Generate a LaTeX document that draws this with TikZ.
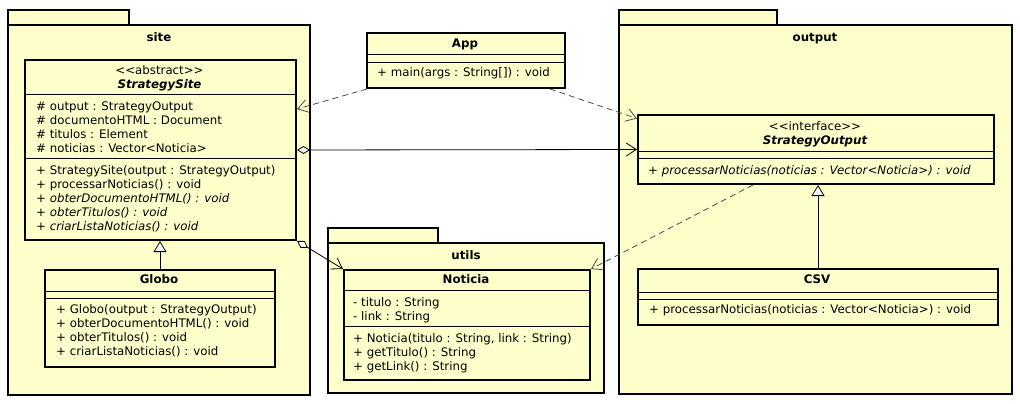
\documentclass[tikz,border=0pt]{standalone}
\usepackage{fontspec}
\setmainfont{DejaVu Sans}
\usetikzlibrary{arrows.meta}
\definecolor{umlyellow}{HTML}{FFFFCC}
\begin{document}
\begin{tikzpicture}[x=1pt, y=-1pt, font=\fontsize{11.8}{14}\selectfont,
    pkg/.style={draw, line width=2pt, fill=umlyellow},
    cls/.style={draw, line width=2pt, fill=umlyellow, anchor=north west, inner sep=0pt},
    mem/.style={anchor=west, inner sep=0pt, text height=8.6pt, text depth=2.4pt},
    ttl/.style={inner sep=0pt, text height=8.6pt, text depth=2.4pt, font=\fontsize{11.8}{14}\selectfont\bfseries},
    sep/.style={line width=0.9pt},
    dep/.style={draw=black!70, line width=0.8pt, dash pattern=on 6pt off 4pt, -{Straight Barb[length=10pt,width=13pt]}},
    agg/.style={line width=0.8pt, {Diamond[fill=white,length=13pt,width=8pt]}-{Straight Barb[length=10pt,width=13pt]}},
    gen/.style={line width=0.8pt, -{Triangle[fill=white,length=11pt,width=13pt]}}]
    \useasboundingbox (0,0) rectangle (1020,404);
    \fill[white] (0,0) rectangle (1020,404);
    % package site
    \draw[pkg] (8,10) rectangle (129,25);
    \draw[pkg] (8,25) rectangle (310,395);
    \node[ttl] (sitelbl) at (159,38) {site};
    \node[cls, minimum width=271pt, minimum height=180pt] (site) at (24,59) {};
    \draw[sep] (24,94) -- (295,94) (24,158) -- (295,158);
    \node[mem, anchor=center] (siteS) at (159.5,71) {<{}<abstract>{}>};
    \node[ttl, font=\fontsize{11.8}{14}\selectfont\bfseries\itshape] (siteN) at (159.5,85) {StrategySite};
    \node[mem] (siteA1) at (36,107) {\# output : StrategyOutput};
    \node[mem] (siteA2) at (36,121) {\# documentoHTML : Document};
    \node[mem] (siteA3) at (36,135) {\# titulos : Element};
    \node[mem] (siteA4) at (36,149) {\# noticias : Vector<Noticia>};
    \node[mem] (siteM1) at (36,171) {+ StrategySite(output : StrategyOutput)};
    \node[mem] (siteM2) at (36,185) {+ processarNoticias() : void};
    \node[mem] (siteM3) at (36,199) {+ \textit{obterDocumentoHTML() : void}};
    \node[mem] (siteM4) at (36,213) {+ \textit{obterTitulos() : void}};
    \node[mem] (siteM5) at (36,227) {+ \textit{criarListaNoticias() : void}};
    \node[cls, minimum width=230pt, minimum height=97pt] (globo) at (44,269) {};
    \draw[sep] (44,291) -- (274,291) (44,298) -- (274,298);
    \node[ttl] (globoN) at (159,280) {Globo};
    \node[mem] (globoM1) at (56,310) {+ Globo(output : StrategyOutput)};
    \node[mem] (globoM2) at (56,324) {+ obterDocumentoHTML() : void};
    \node[mem] (globoM3) at (56,338) {+ obterTitulos() : void};
    \node[mem] (globoM4) at (56,352) {+ criarListaNoticias() : void};
    % class App
    \node[cls, minimum width=198pt, minimum height=55pt] (app) at (366,32) {};
    \draw[sep] (366,54) -- (564,54) (366,62) -- (564,62);
    \node[ttl] (appN) at (465,44) {App};
    \node[mem] (appM1) at (377,73) {+ main(args : String[]) : void};
    % package utils
    \draw[pkg] (328,228) rectangle (438,243);
    \draw[pkg] (328,243) rectangle (604,393);
    \node[ttl] (utilslbl) at (466,256) {utils};
    \node[cls, minimum width=246pt, minimum height=110pt] (noticia) at (343,269) {};
    \draw[sep] (343,290) -- (589,290) (343,326) -- (589,326);
    \node[ttl] (noticiaN) at (466,280) {Noticia};
    \node[mem] (noticiaA1) at (353,303) {- titulo : String};
    \node[mem] (noticiaA2) at (353,317) {- link : String};
    \node[mem] (noticiaM1) at (353,339) {+ Noticia(titulo : String, link : String)};
    \node[mem] (noticiaM2) at (353,353) {+ getTitulo() : String};
    \node[mem] (noticiaM3) at (353,367) {+ getLink() : String};
    % package output
    \draw[pkg] (619,10) rectangle (777,25);
    \draw[pkg] (619,25) rectangle (1012,394);
    \node[ttl] (outputlbl) at (815,38) {output};
    \node[cls, minimum width=356pt, minimum height=69pt] (so) at (637,114) {};
    \draw[sep] (637,151) -- (993,151) (637,158) -- (993,158);
    \node[mem, anchor=center] (soS) at (815,127) {<{}<interface>{}>};
    \node[ttl, font=\fontsize{11.8}{14}\selectfont\bfseries\itshape] (soN) at (815,141) {StrategyOutput};
    \node[mem] (soM1) at (648,171) {+ \textit{processarNoticias(noticias : Vector<Noticia>) : void}};
    \node[cls, minimum width=360pt, minimum height=56pt] (csv) at (637,268) {};
    \draw[sep] (637,292) -- (997,292) (637,299) -- (997,299);
    \node[ttl] (csvN) at (817,280) {CSV};
    \node[mem] (csvM1) at (649,310) {+ processarNoticias(noticias : Vector<Noticia>) : void};
    % relations
    \draw[dep] ([xshift=1pt]app.south west) -- ([yshift=41pt]site.east);
    \draw[dep] ([xshift=-16pt]app.south east) -- ([yshift=31pt]so.west);
    \draw[agg] (site.east) -- (so.west);
    \draw[agg] (site.south east) -- (noticia.north west);
    \draw[dep] ([xshift=-63pt]so.south) -- (noticia.north east);
    \draw[gen] (globo.north) -- (globo.north |- site.south);
    \draw[gen] (csv.north) -- (csv.north |- so.south);
\end{tikzpicture}
\end{document}
